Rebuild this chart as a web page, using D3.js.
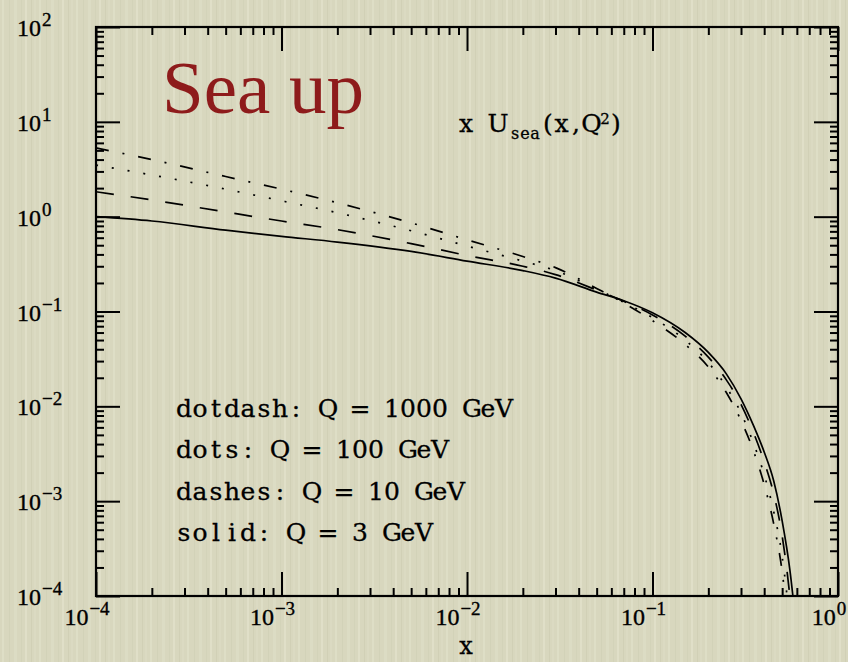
<!DOCTYPE html>
<html>
<head>
<meta charset="utf-8">
<script src="https://cdn.jsdelivr.net/npm/d3@7"></script>
<style>
  html, body { margin: 0; padding: 0; background: #d8d7be; }
  svg { display: block; }
</style>
</head>
<body>
<div id="chart"></div>
<script>
// x grid (shared) and xU_sea(x,Q^2)
const xGrid = [1e-4, 2e-4, 5e-4, 1e-3, 2e-3, 5e-3, 0.01, 0.02, 0.03, 0.05, 0.07, 0.1,
  0.15, 0.2, 0.25, 0.3, 0.35, 0.4, 0.45, 0.5, 0.55, 0.6];
const seaQ3 = [1.00, 0.90, 0.72, 0.62, 0.54, 0.43, 0.34, 0.27, 0.225, 0.160, 0.130, 0.097,
  0.060, 0.037, 0.022, 0.012, 0.0063, 0.0033, 0.00164, 6.2e-4, 1.9e-4, 4e-5];
const seaQ10 = [1.83, 1.50, 1.12, 0.90, 0.73, 0.52, 0.39, 0.30, 0.245, 0.168, 0.128, 0.092,
  0.055, 0.033, 0.019, 0.0105, 0.0053, 0.0026, 0.0012, 4.3e-4, 1.0e-4, 1.5e-5];
const seaQ100 = [3.5, 2.75, 1.95, 1.47, 1.10, 0.71, 0.49, 0.34, 0.27, 0.172, 0.125, 0.086,
  0.050, 0.029, 0.016, 0.0085, 0.0041, 0.0019, 7.8e-4, 2.6e-4, 5e-5, 5e-6];
const seaQ1000 = [5.3, 4.0, 2.65, 1.95, 1.40, 0.86, 0.57, 0.38, 0.29, 0.175, 0.123, 0.080,
  0.045, 0.026, 0.014, 0.0071, 0.0034, 0.0015, 5.8e-4, 1.8e-4, 3e-5, 2e-6];

const legendLines = ['dotdash: Q = 1000 GeV', 'dots: Q = 100 GeV', 'dashes: Q = 10 GeV', 'solid: Q = 3 GeV'];
const xMajors = [1e-4, 1e-3, 1e-2, 1e-1, 1];
const yMajors = [1e-4, 1e-3, 1e-2, 1e-1, 1, 10, 100];

const W = 848, H = 662;
const pLeft = 96, pRight = 838, pTop = 27, pBottom = 596;

const svg = d3.select('#chart').append('svg')
  .attr('width', W)
  .attr('height', H);

// paper texture (faint vertical streaks)
const defs = svg.append('defs');
const pat = defs.append('pattern')
  .attr('id', 'paper')
  .attr('patternUnits', 'userSpaceOnUse')
  .attr('width', 37)
  .attr('height', 60);
pat.append('rect').attr('width', 37).attr('height', 60).attr('fill', '#d8d7be');
[[2, 2, '#dedec6'], [9, 1, '#d2d2b8'], [14, 3, '#dcdcc4'], [21, 1, '#d3d3b9'],
 [25, 2, '#e0dfc8'], [31, 1, '#d1d0b6'], [34, 2, '#dbdac2']].forEach(s => {
  pat.append('rect').attr('x', s[0]).attr('width', s[1]).attr('height', 60).attr('fill', s[2]);
});
svg.append('rect').attr('width', W).attr('height', H).attr('fill', 'url(#paper)');

const x = d3.scaleLog().domain([1e-4, 1]).range([pLeft, pRight]);
const y = d3.scaleLog().domain([1e-4, 100]).range([pBottom, pTop]);

function minorsOf(majors) {
  const out = [];
  for (let i = 0; i < majors.length - 1; i++) {
    for (let k = 2; k <= 9; k++) out.push(majors[i] * k);
  }
  return out;
}
const xMinors = minorsOf(xMajors);
const yMinors = minorsOf(yMajors);

// ticks on all four sides, pointing inward
function drawTicks(axisFn, scale, values, size, transform) {
  const g = svg.append('g')
    .attr('transform', transform)
    .call(axisFn(scale).tickValues(values).tickSize(-size).tickSizeOuter(0).tickFormat(''));
  g.select('.domain').remove();
  g.selectAll('.tick line').attr('stroke', '#000').attr('stroke-width', 2);
}
drawTicks(d3.axisBottom, x, xMajors, 24, `translate(0,${pBottom})`);
drawTicks(d3.axisBottom, x, xMinors, 8, `translate(0,${pBottom})`);
drawTicks(d3.axisTop, x, xMajors, 24, `translate(0,${pTop})`);
drawTicks(d3.axisTop, x, xMinors, 8, `translate(0,${pTop})`);
drawTicks(d3.axisLeft, y, yMajors, 24, `translate(${pLeft},0)`);
drawTicks(d3.axisLeft, y, yMinors, 8, `translate(${pLeft},0)`);
drawTicks(d3.axisRight, y, yMajors, 24, `translate(${pRight},0)`);
drawTicks(d3.axisRight, y, yMinors, 8, `translate(${pRight},0)`);

svg.append('rect')
  .attr('x', pLeft).attr('y', pTop)
  .attr('width', pRight - pLeft).attr('height', pBottom - pTop)
  .attr('fill', 'none').attr('stroke', '#000').attr('stroke-width', 2.2);

// tick labels 10^n
const tickFont = "'Liberation Serif', serif";
function powerLabel(sel, v) {
  const e = Math.round(Math.log10(v));
  sel.append('tspan').text('10');
  sel.append('tspan')
    .attr('font-size', 19)
    .attr('dy', -10)
    .attr('dx', 1)
    .text(e < 0 ? '\u2212' + (-e) : String(e));
}
yMajors.forEach(v => {
  const t = svg.append('text')
    .attr('x', 17).attr('y', y(v) + 9)
    .attr('font-family', tickFont).attr('font-size', 24)
    .attr('fill', '#000').attr('stroke', '#000').attr('stroke-width', 0.35);
  powerLabel(t, v);
});
xMajors.forEach(v => {
  const t = svg.append('text')
    .attr('x', x(v) - 9).attr('y', 625)
    .attr('text-anchor', 'middle')
    .attr('font-family', tickFont).attr('font-size', 24)
    .attr('fill', '#000').attr('stroke', '#000').attr('stroke-width', 0.35);
  powerLabel(t, v);
});

// curves
svg.append('clipPath').attr('id', 'plotclip')
  .append('rect')
  .attr('x', pLeft).attr('y', pTop)
  .attr('width', pRight - pLeft).attr('height', pBottom - pTop);

const series = [
  { vals: seaQ3, dash: null },
  { vals: seaQ10, dash: '18,17' },
  { vals: seaQ100, dash: '2,14' },
  { vals: seaQ1000, dash: '13,14,2,14' }
];
const line = d3.line()
  .x(d => x(d[0]))
  .y(d => y(d[1]))
  .curve(d3.curveMonotoneX);

const plot = svg.append('g').attr('clip-path', 'url(#plotclip)');
series.forEach(s => {
  plot.append('path')
    .datum(xGrid.map((xv, i) => [xv, s.vals[i]]))
    .attr('d', line)
    .attr('fill', 'none')
    .attr('stroke', '#000')
    .attr('stroke-width', 1.7)
    .attr('stroke-dasharray', s.dash);
});

// typewriter-like text: serif glyphs centred in fixed-width cells
const serifFont = "'DejaVu Serif', serif";
function monoText(x0, y0, str, step, size) {
  const t = svg.append('text')
    .attr('y', y0)
    .attr('font-family', serifFont).attr('font-size', size)
    .attr('text-anchor', 'middle')
    .attr('fill', '#000').attr('stroke', '#000').attr('stroke-width', 0.3);
  str.split('').forEach((ch, i) => {
    if (ch === ' ') return;
    t.append('tspan').attr('x', x0 + step * i + step / 2).text(ch);
  });
  return t;
}

svg.append('text')
  .attr('x', 162).attr('y', 113)
  .attr('font-family', "'Liberation Serif', serif")
  .attr('font-size', 75)
  .attr('fill', '#8e1b1b')
  .text('Sea up');

// x U_sea(x,Q^2)
const lbl = svg.append('text')
  .attr('font-family', serifFont)
  .attr('text-anchor', 'middle').attr('fill', '#000')
  .attr('stroke', '#000').attr('stroke-width', 0.3);
[['x', 466, 132, 25], ['U', 498, 132, 25], ['s', 515, 139, 16], ['e', 525, 139, 16],
 ['a', 535, 139, 16], ['(', 548, 132, 25], ['x', 561.5, 132, 25], [',', 576, 132, 25],
 ['Q', 591.5, 132, 25], ['2', 605, 124, 15], [')', 616, 132, 25]].forEach(c => {
  lbl.append('tspan').attr('x', c[1]).attr('y', c[2]).attr('font-size', c[3]).text(c[0]);
});

legendLines.forEach((d, i) => monoText(176, 417 + i * 41.3, d, 16, 25));

// axis title, kept clear of the bottom edge
monoText(458, 654, 'x', 16, 24);
</script>
</body>
</html>
